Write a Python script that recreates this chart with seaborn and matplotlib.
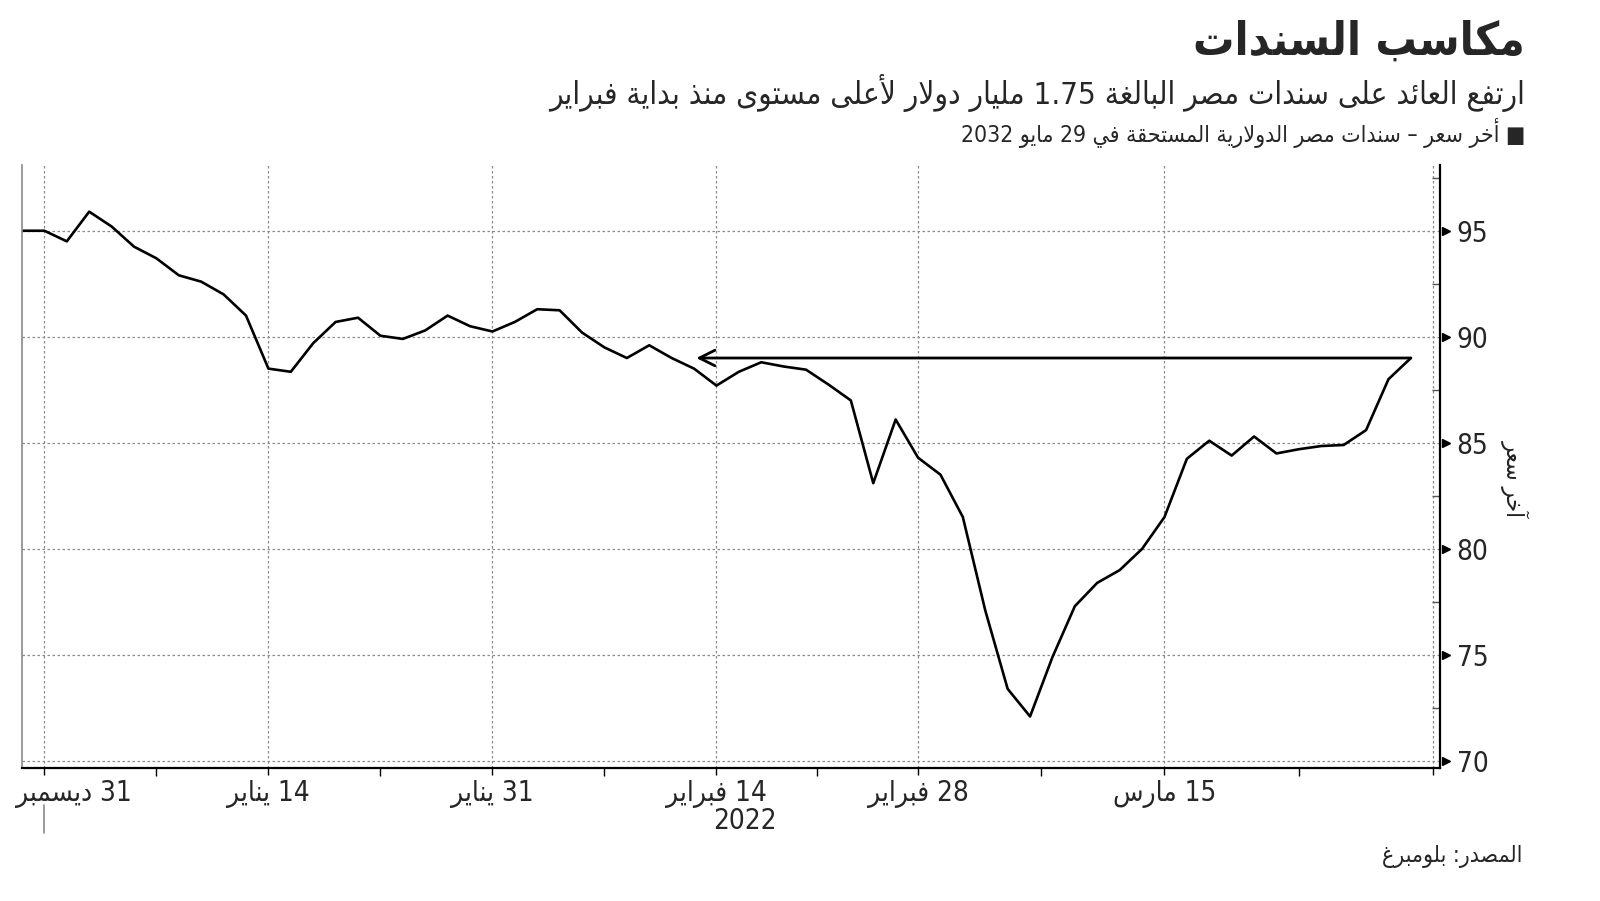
import re
import numpy as np
import pandas as pd
import matplotlib
matplotlib.use('Agg')
import matplotlib.pyplot as plt
import matplotlib.transforms as mtransforms
from matplotlib.ticker import FixedLocator
import seaborn as sns

# matplotlib does no Arabic joining or right-to-left layout, so shape by hand
FORMS = {
    '\u0622': (0xFE81, 0xFE82), '\u0623': (0xFE83, 0xFE84), '\u0625': (0xFE87, 0xFE88),
    '\u0626': (0xFE89, 0xFE8A, 0xFE8B, 0xFE8C), '\u0627': (0xFE8D, 0xFE8E),
    '\u0628': (0xFE8F, 0xFE90, 0xFE91, 0xFE92), '\u0629': (0xFE93, 0xFE94),
    '\u062A': (0xFE95, 0xFE96, 0xFE97, 0xFE98), '\u062D': (0xFEA1, 0xFEA2, 0xFEA3, 0xFEA4),
    '\u062E': (0xFEA5, 0xFEA6, 0xFEA7, 0xFEA8), '\u062F': (0xFEA9, 0xFEAA),
    '\u0630': (0xFEAB, 0xFEAC), '\u0631': (0xFEAD, 0xFEAE), '\u0632': (0xFEAF, 0xFEB0),
    '\u0633': (0xFEB1, 0xFEB2, 0xFEB3, 0xFEB4), '\u0635': (0xFEB9, 0xFEBA, 0xFEBB, 0xFEBC),
    '\u0639': (0xFEC9, 0xFECA, 0xFECB, 0xFECC), '\u063A': (0xFECD, 0xFECE, 0xFECF, 0xFED0),
    '\u0641': (0xFED1, 0xFED2, 0xFED3, 0xFED4), '\u0642': (0xFED5, 0xFED6, 0xFED7, 0xFED8),
    '\u0643': (0xFED9, 0xFEDA, 0xFEDB, 0xFEDC), '\u0644': (0xFEDD, 0xFEDE, 0xFEDF, 0xFEE0),
    '\u0645': (0xFEE1, 0xFEE2, 0xFEE3, 0xFEE4), '\u0646': (0xFEE5, 0xFEE6, 0xFEE7, 0xFEE8),
    '\u0647': (0xFEE9, 0xFEEA, 0xFEEB, 0xFEEC), '\u0648': (0xFEED, 0xFEEE),
    '\u0649': (0xFEEF, 0xFEF0), '\u064A': (0xFEF1, 0xFEF2, 0xFEF3, 0xFEF4),
}
LAM_ALEF = {'\u0622': (0xFEF5, 0xFEF6), '\u0623': (0xFEF7, 0xFEF8),
            '\u0625': (0xFEF9, 0xFEFA), '\u0627': (0xFEFB, 0xFEFC)}


def ar(text):
    out = []
    i, n = 0, len(text)
    while i < n:
        c = text[i]
        if c not in FORMS:
            out.append(c)
            i += 1
            continue
        p = i > 0 and text[i - 1] in FORMS and len(FORMS[text[i - 1]]) == 4
        if c == '\u0644' and i + 1 < n and text[i + 1] in LAM_ALEF:
            f = LAM_ALEF[text[i + 1]]
            out.append(chr(f[1] if p else f[0]))
            i += 2
            continue
        f = FORMS[c]
        nx = len(f) == 4 and i + 1 < n and text[i + 1] in FORMS
        if p and nx:
            g = f[3]
        elif p:
            g = f[1]
        elif nx:
            g = f[2]
        else:
            g = f[0]
        out.append(chr(g))
        i += 1
    vis = ''.join(out)[::-1]
    return re.sub(r'[0-9][0-9.]*[0-9]|[0-9]', lambda m: m.group(0)[::-1], vis)


# data: last price of Egypt's dollar bond due 29 May 2032 (US trading days)
holidays = ['2022-01-17', '2022-02-21']
dates = pd.date_range('2021-12-30', '2022-03-30',
                      freq=pd.offsets.CustomBusinessDay(holidays=holidays))
price = [95.0, 95.0, 94.5, 95.9, 95.2, 94.25, 93.7, 92.9, 92.6, 92.0,
         91.0, 88.5, 88.35, 89.7, 90.7, 90.9, 90.05, 89.9, 90.3, 91.0,
         90.5, 90.25, 90.7, 91.3, 91.25, 90.2, 89.5, 89.0, 89.6, 89.0,
         88.5, 87.7, 88.35, 88.8, 88.6, 88.45, 87.75, 87.0, 83.1, 86.1,
         84.3, 83.5, 81.5, 77.1, 73.4, 72.1, 74.9, 77.3, 78.4, 79.0,
         80.0, 81.5, 84.25, 85.1, 84.4, 85.3, 84.5, 84.7, 84.85, 84.9,
         85.6, 88.0, 89.0]
tick_dates = ['2021-12-31', '2022-01-14', '2022-01-31', '2022-02-14', '2022-02-28', '2022-03-15']
month_names = {12: 'ديسمبر', 1: 'يناير', 2: 'فبراير', 3: 'مارس'}
y_ticks = [70, 75, 80, 85, 90, 95]
arrow_level = 89.0
arrow_tip = '2022-02-11'

df = pd.DataFrame({'idx': np.arange(len(dates)), 'price': price})

sns.set_theme(style='white')
plt.rcParams['font.family'] = ['DejaVu Sans']
plt.rcParams['font.stretch'] = 'condensed'

fig = plt.figure(figsize=(16, 9.01), dpi=100)
ax = fig.add_axes([22 / 1600, 1 - 768 / 901, (1440 - 22) / 1600, (768 - 165) / 901])

sns.lineplot(data=df, x='idx', y='price', color='black', linewidth=1.9, ax=ax)

# arrow back to the earlier level
tip = dates.get_loc(pd.Timestamp(arrow_tip))
ax.annotate('', xy=(tip + 0.1, arrow_level), xytext=(df['idx'].iloc[-1], arrow_level),
            arrowprops=dict(arrowstyle='->', lw=2.0, color='black', mutation_scale=28,
                            shrinkA=0, shrinkB=0))

ax.set_xlim(0, 63.3)
ax.set_ylim(69.67, 98.1)

tick_pos = [dates.get_loc(pd.Timestamp(d)) for d in tick_dates] + [len(dates)]
tick_lab = [ar('%d %s' % (pd.Timestamp(d).day, month_names[pd.Timestamp(d).month]))
            for d in tick_dates] + ['']
ax.set_xticks(tick_pos)
ax.set_xticklabels(tick_lab, fontsize=20)
mids = [(a + b) / 2 for a, b in zip(tick_pos[:-1], tick_pos[1:])]
ax.xaxis.set_minor_locator(FixedLocator(mids))
ax.tick_params(axis='x', which='major', direction='out', length=5, width=1, color='black',
               pad=4, bottom=True)
ax.tick_params(axis='x', which='minor', direction='out', length=6, width=1, color='black',
               bottom=True)
lab0 = ax.get_xticklabels()[0]
lab0.set_transform(lab0.get_transform() + mtransforms.ScaledTranslation(0.29, 0, fig.dpi_scale_trans))

ax.yaxis.tick_right()
ax.set_yticks(y_ticks)
ax.set_yticklabels([str(v) for v in y_ticks], fontsize=20)
ax.yaxis.set_minor_locator(FixedLocator([v + 2.5 for v in y_ticks]))
ax.tick_params(axis='y', which='major', length=0, pad=12, right=True, left=False)
ax.tick_params(axis='y', which='minor', direction='in', length=6, width=1, color='#555555',
               right=True, left=False)
ax.plot([1.0045] * len(y_ticks), y_ticks, marker='>', markersize=6, color='black', linestyle='none',
        transform=ax.get_yaxis_transform(), clip_on=False)

ax.grid(True, which='major', color='#8a8a8a', linestyle=(0, (2, 2)), linewidth=0.9)
ax.set_xlabel('')
ax.set_ylabel('')
ax.spines['top'].set_visible(False)
ax.spines['left'].set_color('#8a8a8a')
ax.spines['left'].set_linewidth(1.2)
ax.spines['right'].set_color('black')
ax.spines['right'].set_linewidth(1.6)
ax.spines['bottom'].set_color('black')
ax.spines['bottom'].set_linewidth(1.6)

# year separator under the first label
ax.plot([1, 1], [-0.062, -0.108], color='#8a8a8a', linewidth=1.2,
        transform=ax.get_xaxis_transform(), clip_on=False)

fig.text(745 / 1600, 1 - 821 / 901, '2022', fontsize=20, ha='center', va='center')
fig.text(1515 / 1600, 1 - 478 / 901, ar('آخر سعر'), fontsize=17, rotation=270,
         ha='center', va='center', color='#222222')

fig.text(1525 / 1600, 1 - 42 / 901, ar('مكاسب السندات'), fontsize=33, fontweight='bold',
         ha='right', va='center')
fig.text(1525 / 1600, 1 - 93 / 901,
         ar('ارتفع العائد على سندات مصر البالغة 1.75 مليار دولار لأعلى مستوى منذ بداية فبراير'),
         fontsize=22.5, ha='right', va='center')
fig.text(1525 / 1600, 1 - 133 / 901,
         ar('■ أخر سعر – سندات مصر الدولارية المستحقة في 29 مايو 2032'),
         fontsize=16.5, ha='right', va='center')
fig.text(1522 / 1600, 1 - 857 / 901, ar('المصدر: بلومبرغ'), fontsize=16.5, ha='right', va='center')

fig.savefig('out.png', dpi=100, facecolor='white')
